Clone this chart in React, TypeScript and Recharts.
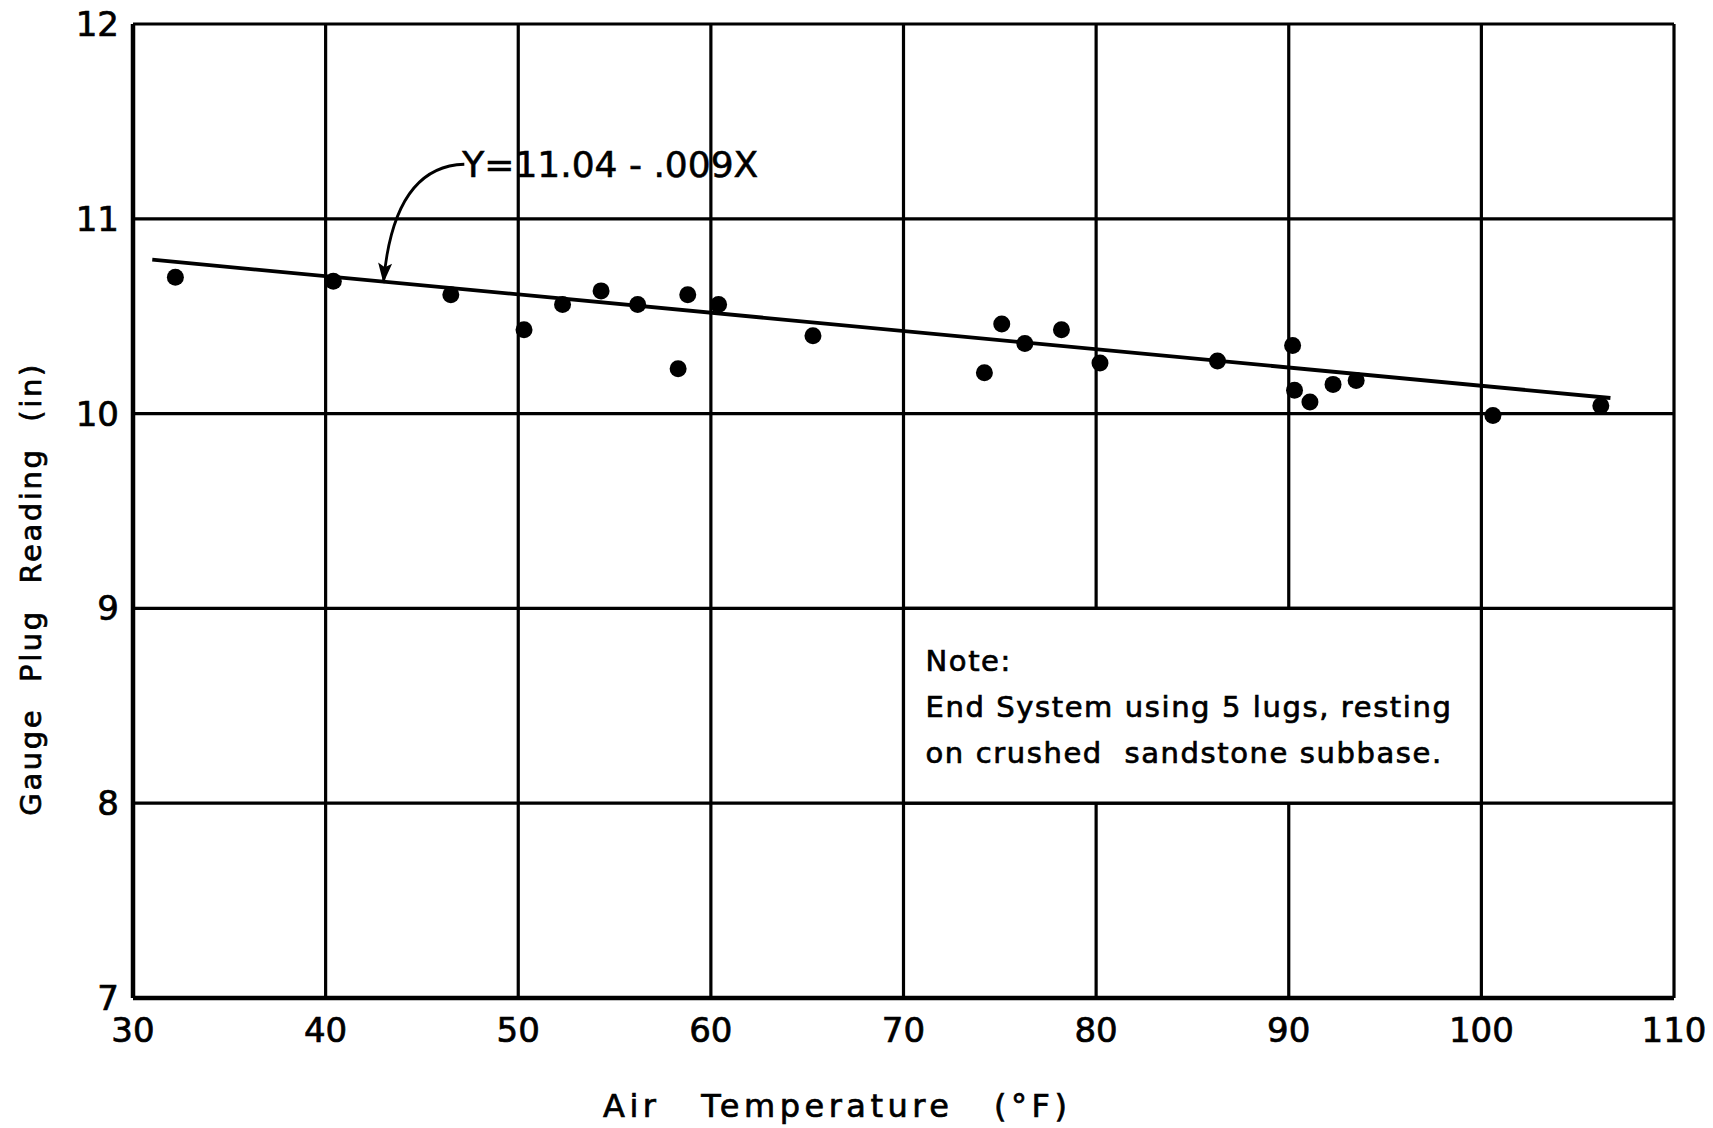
import React from "react";
import {
  ScatterChart,
  Scatter,
  XAxis,
  YAxis,
  CartesianGrid,
  ReferenceLine,
  ReferenceArea,
} from "recharts";

// air temperature (°F) vs gauge plug reading (in)
const temps = [32.2, 40.4, 46.5, 50.3, 52.3, 54.3, 56.2, 58.3, 58.8, 60.4, 65.3, 74.2, 75.1, 76.3, 78.2, 80.2, 86.3, 90.2, 90.3, 91.1, 92.3, 93.5, 100.6, 106.2];
const readings = [10.7, 10.68, 10.61, 10.43, 10.56, 10.63, 10.56, 10.23, 10.61, 10.56, 10.4, 10.21, 10.46, 10.36, 10.43, 10.26, 10.27, 10.35, 10.12, 10.06, 10.15, 10.17, 9.99, 10.04];

// fitted line drawn on the chart, end points as read
const fitStart = { x: 31, y: 10.79 };
const fitEnd = { x: 106.7, y: 10.08 };

// arrow from the equation to the line
const arrowFrom = { x: 47.2, y: 11.28 };
const arrowTo = { x: 43.0, y: 10.67 };

const xTicks = [30, 40, 50, 60, 70, 80, 90, 100, 110];
const yTicks = [7, 8, 9, 10, 11, 12];

const equation = "Y=11.04 - .009X";
const noteLines = ["Note:", "End System using 5 lugs, resting", "on crushed  sandstone subbase."];

const points = temps.map((t, i) => ({ x: t, y: readings[i] }));

const font = "DejaVu Sans, Verdana, sans-serif";

function Dot(props: any) {
  return <circle cx={props.cx} cy={props.cy} r={8.5} fill="#000" />;
}

function Arrow(props: any) {
  const { x1, y1, x2, y2 } = props;
  const cx = x2 + 10;
  const cy = y1 + 2;
  // direction at the tip
  const dx = x2 - cx;
  const dy = y2 - cy;
  const len = Math.sqrt(dx * dx + dy * dy);
  const ux = dx / len;
  const uy = dy / len;
  const hl = 20;
  const hw = 7;
  const bx = x2 - ux * hl;
  const by = y2 - uy * hl;
  return (
    <g>
      <path d={`M${x1},${y1} Q${cx},${cy} ${x2},${y2}`} fill="none" stroke="#000" strokeWidth={2.8} />
      <path
        d={`M${x2},${y2} L${bx - uy * hw},${by + ux * hw} L${bx + ux * 4},${by + uy * 4} L${bx + uy * hw},${by - ux * hw} Z`}
        fill="#000"
      />
      <text
        x={x1 - 2}
        y={y1}
        dominantBaseline="central"
        fontFamily={font}
        fontSize={36}
        fill="#000"
        stroke="#000"
        strokeWidth={0.6}
        style={{ whiteSpace: "pre" }}
      >
        {equation}
      </text>
    </g>
  );
}

function NoteLabel(props: any) {
  const vb = props.viewBox || {};
  return (
    <g>
      {noteLines.map((s, i) => (
        <text
          key={i}
          x={vb.x + 22}
          y={vb.y + 53 + i * 46}
          dominantBaseline="central"
          fontFamily={font}
          fontSize={29}
          letterSpacing={1.6}
          fill="#000"
          stroke="#000"
          strokeWidth={0.7}
          style={{ whiteSpace: "pre" }}
        >
          {s}
        </text>
      ))}
    </g>
  );
}

function XLabel(props: any) {
  const vb = props.viewBox || {};
  return (
    <text
      x={vb.x + vb.width * 0.457}
      y={1106}
      textAnchor="middle"
      dominantBaseline="central"
      fontFamily={font}
      fontSize={32}
      letterSpacing={4.5}
      wordSpacing={26}
      fill="#000"
      stroke="#000"
      strokeWidth={0.7}
    >
      Air Temperature (°F)
    </text>
  );
}

function YLabel(props: any) {
  const vb = props.viewBox || {};
  const cy = vb.y + vb.height * 0.58;
  return (
    <text
      x={31}
      y={cy}
      transform={`rotate(-90, 31, ${cy})`}
      textAnchor="middle"
      dominantBaseline="central"
      fontFamily={font}
      fontSize={29}
      letterSpacing={2.6}
      wordSpacing={14}
      fill="#000"
      stroke="#000"
      strokeWidth={0.7}
    >
      Gauge Plug Reading (in)
    </text>
  );
}

const tickStyle = { fontSize: 34, fill: "#000", fontFamily: font, stroke: "#000", strokeWidth: 0.7 };

export default function App() {
  return (
    <div style={{ position: "absolute", left: 0, top: 0, background: "#fff" }}>
      <ScatterChart
        width={1713}
        height={1128}
        margin={{ top: 24, right: 39, left: 73, bottom: 0 }}
      >
        <CartesianGrid stroke="#000" strokeWidth={3.2} horizontalValues={yTicks} verticalValues={xTicks} />
        <XAxis
          type="number"
          dataKey="x"
          domain={[30, 110]}
          ticks={xTicks}
          interval={0}
          height={130}
          tickSize={0}
          tickMargin={20}
          tick={tickStyle}
          stroke="#000"
          strokeWidth={4.5}
          label={<XLabel />}
        />
        <YAxis
          type="number"
          dataKey="y"
          domain={[7, 12]}
          ticks={yTicks}
          interval={0}
          width={60}
          tickSize={0}
          tickMargin={14}
          tick={tickStyle}
          stroke="#000"
          strokeWidth={4.5}
          label={<YLabel />}
        />
        <ReferenceArea
          x1={70}
          x2={100}
          y1={8}
          y2={9}
          fill="#fff"
          fillOpacity={1}
          stroke="#000"
          strokeWidth={3.2}
          label={<NoteLabel />}
        />
        <ReferenceLine
          segment={[fitStart, fitEnd]}
          stroke="#000"
          strokeWidth={3.8}
        />
        <ReferenceLine
          segment={[arrowFrom, arrowTo]}
          stroke="#000"
          shape={(p: any) => <Arrow {...p} />}
        />
        <Scatter data={points} fill="#000" shape={<Dot />} isAnimationActive={false} />
      </ScatterChart>
    </div>
  );
}
